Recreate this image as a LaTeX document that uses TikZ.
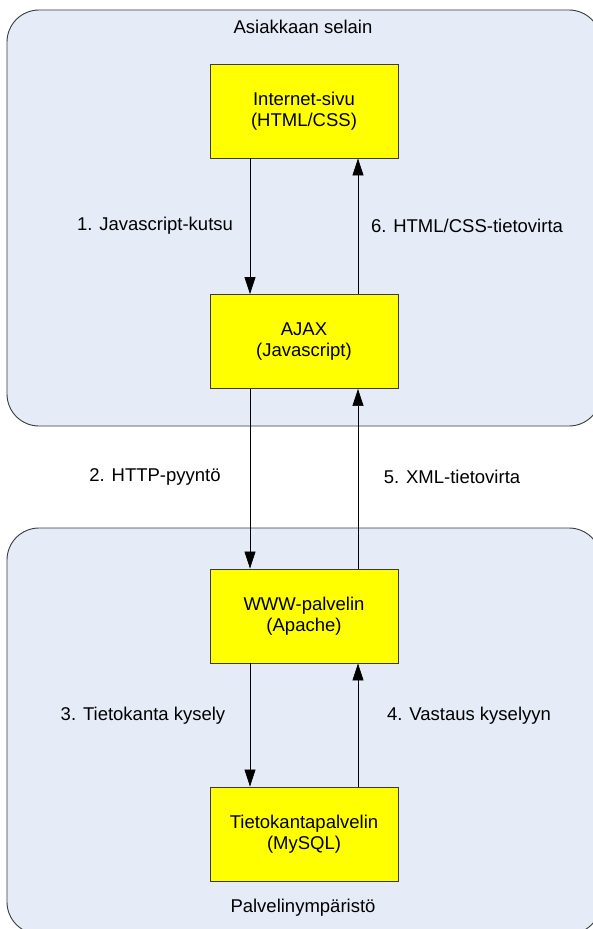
\documentclass[tikz,border=0pt]{standalone}
\usepackage{fontspec}
\setmainfont{Liberation Sans}
\usetikzlibrary{arrows.meta}
\definecolor{zonefill}{HTML}{E6ECF7}
\definecolor{linegrey}{HTML}{3A3A3A}
\definecolor{boxyellow}{HTML}{FFFF00}
\tikzset{
  zone/.style={draw=linegrey, fill=zonefill, line width=0.9pt, rounded corners=32pt},
  compbox/.style={draw=linegrey, fill=boxyellow, line width=0.9pt, minimum width=188pt, minimum height=94pt, align=center, inner sep=0pt, font=\fontsize{18.5}{21}\selectfont},
  lbl/.style={font=\fontsize{18.5}{21}\selectfont, inner sep=0pt},
  arr/.style={draw=black, line width=0.7pt, -{Triangle[length=17pt,width=11pt]}}
}
\begin{document}
\begin{tikzpicture}[x=1pt,y=-1pt]
\useasboundingbox (0,0) rectangle (593,929);
\begin{scope}
\clip (0,0) rectangle (593,929);
\draw[zone] (7,10) rectangle (601,426);
\draw[zone] (7,528) rectangle (601,934);
\end{scope}
\node[lbl] (ztop) at (303,27) {Asiakkaan selain};
\node[lbl] (zbot) at (303,908) {Palvelinympäristö};

\node[compbox] (inet) at (304,111) {Internet-sivu\\(HTML/CSS)};
\node[compbox] (ajax) at (304,341.5) {AJAX\\(Javascript)};
\node[compbox] (www) at (304,616) {WWW-palvelin\\(Apache)};
\node[compbox] (db) at (304,834) {Tietokantapalvelin\\(MySQL)};

\draw[arr] ([xshift=-54pt]inet.south) -- ([xshift=-54pt]ajax.north);
\draw[arr] ([xshift=54pt]ajax.north) -- ([xshift=54pt]inet.south);
\draw[arr] ([xshift=-54pt]ajax.south) -- ([xshift=-54pt]www.north);
\draw[arr] ([xshift=54pt]www.north) -- ([xshift=54pt]ajax.south);
\draw[arr] ([xshift=-54pt]www.south) -- ([xshift=-54pt]db.north);
\draw[arr] ([xshift=54pt]db.north) -- ([xshift=54pt]www.south);

\node[lbl] (l1) at (155,226) {1. Javascript-kutsu};
\node[lbl] (l6) at (467,226) {6. HTML/CSS-tietovirta};
\node[lbl] (l2) at (155,477) {2. HTTP-pyyntö};
\node[lbl] (l5) at (452,477) {5. XML-tietovirta};
\node[lbl] (l3) at (143,716) {3. Tietokanta kysely};
\node[lbl] (l4) at (469,716) {4. Vastaus kyselyyn};
\end{tikzpicture}
\end{document}
